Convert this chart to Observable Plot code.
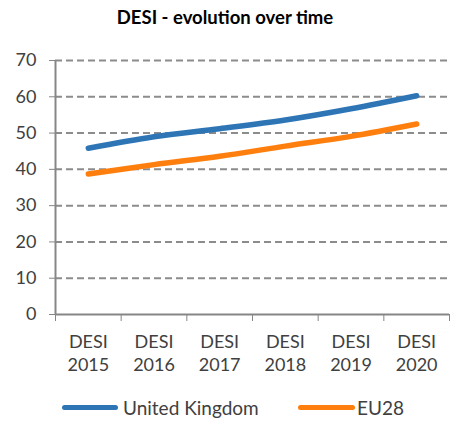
<!DOCTYPE html>
<html>
<head>
<meta charset="utf-8">
<script src="https://cdn.jsdelivr.net/npm/d3@7"></script>
<script src="https://cdn.jsdelivr.net/npm/@observablehq/plot@0.6"></script>
<style>
  html, body { margin: 0; padding: 0; background: #fff; }
  #wrap { width: 450px; height: 423px; font-family: Lato, "Open Sans", sans-serif; color: #404040; }
  #title { height: 36px; line-height: 34px; text-align: center; font-weight: bold; font-size: 18.5px; color: #000; }
  #chart svg { display: block; overflow: visible; }
  #chart svg text { fill: #404040; }
  #chart g[aria-label^="x-axis"], #chart g[aria-label^="y-axis"] { color: #868686; }
  #legend { height: 32px; display: flex; align-items: center; font-size: 19px; color: #404040; position: relative; }
  .sw { display: inline-block; height: 5px; border-radius: 3px; }
</style>
</head>
<body>
<div id="wrap">
  <div id="title">DESI - evolution over time</div>
  <div id="chart"></div>
  <div id="legend"></div>
</div>
<script>
const categories = ["DESI\n2015", "DESI\n2016", "DESI\n2017", "DESI\n2018", "DESI\n2019", "DESI\n2020"];
const seriesNames = ["United Kingdom", "EU28"];
const seriesColors = ["#2e75b6", "#ff7f0e"];
const ukValues = [45.8, 49.0, 51.2, 53.6, 56.7, 60.3];
const euValues = [38.7, 41.3, 43.6, 46.4, 49.1, 52.5];
const yTicks = [0, 10, 20, 30, 40, 50, 60, 70];

const rows = [];
[ukValues, euValues].forEach((vals, s) => vals.forEach((v, i) => rows.push({series: seriesNames[s], i, value: v})));
const xBounds = d3.range(categories.length + 1);

const chart = Plot.plot({
  width: 450,
  height: 355,
  marginTop: 24,
  marginBottom: 77,
  marginLeft: 55,
  marginRight: 1,
  style: {fontFamily: "Lato, 'Open Sans', sans-serif", fontSize: "18px", background: "transparent", overflow: "visible"},
  x: {domain: [0, categories.length], ticks: xBounds, tickFormat: () => "", tickSize: 7, label: null},
  y: {domain: [0, 70], ticks: yTicks, tickSize: 6, tickPadding: 13, label: null},
  color: {domain: seriesNames, range: seriesColors},
  marks: [
    Plot.ruleY(yTicks.filter(t => t > 0), {stroke: "#8c8c8c", strokeWidth: 2, strokeDasharray: "7,4"}),
    Plot.ruleY([0], {stroke: "#868686", strokeWidth: 2}),
    Plot.ruleX([0], {stroke: "#868686", strokeWidth: 2}),
    Plot.line(rows, {x: d => d.i + 0.5, y: "value", z: "series", stroke: "series", strokeWidth: 5.5, curve: "catmull-rom", strokeLinecap: "round"}),
    Plot.text(categories, {x: (d, i) => i + 0.5, frameAnchor: "bottom", lineAnchor: "top", dy: 17, lineHeight: 1.28, text: d => d, fill: "#404040", fontSize: 18})
  ]
});
document.getElementById("chart").appendChild(chart);

const legend = document.getElementById("legend");
const legendPos = [{left: 62, w: 56, gap: 5}, {left: 298, w: 57, gap: 2}];
seriesNames.forEach((name, s) => {
  const item = document.createElement("div");
  item.style.position = "absolute";
  item.style.left = legendPos[s].left + "px";
  item.style.display = "flex";
  item.style.alignItems = "center";
  const sw = document.createElement("span");
  sw.className = "sw";
  sw.style.width = legendPos[s].w + "px";
  sw.style.background = seriesColors[s];
  sw.style.marginRight = legendPos[s].gap + "px";
  const lab = document.createElement("span");
  lab.textContent = name;
  item.appendChild(sw);
  item.appendChild(lab);
  legend.appendChild(item);
});
</script>
</body>
</html>
